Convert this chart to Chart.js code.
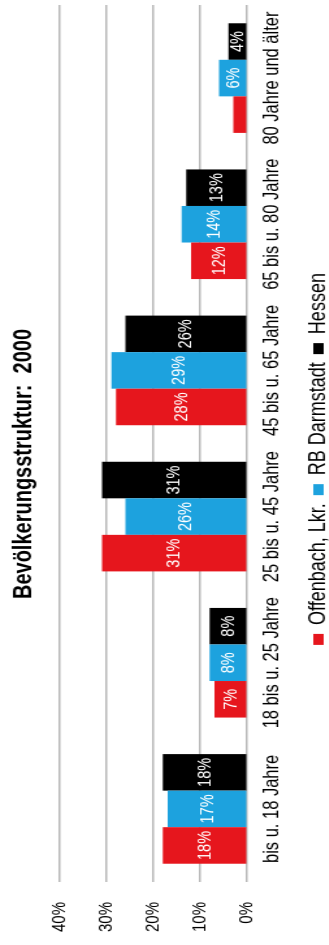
<!DOCTYPE html>
<html>
<head>
<meta charset="utf-8">
<script src="https://cdn.jsdelivr.net/npm/chart.js@4.4.1/dist/chart.umd.min.js"></script>
<style>
  html, body { margin: 0; padding: 0; background: #fff; overflow: hidden; }
  /* the chart is laid out landscape, then turned to read bottom-to-top */
  #wrap {
    position: absolute; left: 0; top: 0;
    width: 945px; height: 264px;
    transform-origin: 0 0;
    transform: translateY(945px) rotate(-90deg) scaleY(1.3);
  }
  canvas { display: block; }
</style>
</head>
<body>
<div id="wrap"><canvas id="c" width="945" height="264"></canvas></div>
<script>
const categories = [
  'bis u. 18 Jahre',
  '18 bis u. 25 Jahre',
  '25 bis u. 45 Jahre',
  '45 bis u. 65 Jahre',
  '65 bis u. 80 Jahre',
  '80 Jahre und älter'
];
const seriesNames = ['Offenbach, Lkr.', 'RB Darmstadt', 'Hessen'];
const offenbach   = [18, 7, 31, 28, 12, 3];
const rbDarmstadt = [17, 8, 26, 29, 14, 6];
const hessen      = [18, 8, 31, 26, 13, 4];
const valueTicks  = [0, 10, 20, 30, 40];
const titleText   = 'Bevölkerungsstruktur:  2000';

const FONT = '"Liberation Sans", Arial, Helvetica, sans-serif';
const colors = ['#e6161d', '#1da2de', '#000000'];

// white percentage labels in the middle of each bar (skipped when the bar is too short)
const barLabels = {
  id: 'barLabels',
  afterDatasetsDraw(chart) {
    const ctx = chart.ctx;
    const size = 14.5;
    ctx.save();
    ctx.font = size + 'px ' + FONT;
    ctx.fillStyle = '#ffffff';
    ctx.textAlign = 'center';
    ctx.textBaseline = 'middle';
    chart.data.datasets.forEach((ds, i) => {
      chart.getDatasetMeta(i).data.forEach((bar, j) => {
        const len = bar.base - bar.y;
        if (len < size * 0.8) return;
        ctx.fillText(ds.data[j] + '%', bar.x, (bar.y + bar.base) / 2 + 0.5);
      });
    });
    ctx.restore();
  }
};

// title and legend sit a little right of the canvas centre
const boxShift = {
  id: 'boxShift',
  afterLayout(chart) {
    [[chart.legend, 16], [chart.titleBlock, 11]].forEach(([box, dx]) => {
      if (!box) return;
      box.left += dx;
      box.right += dx;
    });
  }
};

const seriesData = [offenbach, rbDarmstadt, hessen];

new Chart(document.getElementById('c'), {
  type: 'bar',
  data: {
    labels: categories,
    datasets: seriesNames.map((name, i) => ({
      label: name,
      data: seriesData[i],
      backgroundColor: colors[i],
      borderColor: colors[i],
      borderWidth: 0,
      categoryPercentage: 0.75,
      barPercentage: 1.0
    }))
  },
  options: {
    responsive: false,
    animation: false,
    devicePixelRatio: 1,
    layout: { padding: { left: 0, right: 5, top: 0, bottom: 0 } },
    plugins: {
      title: {
        display: true,
        text: titleText,
        color: '#000',
        font: { family: FONT, size: 20, weight: 'bold' },
        padding: { top: 6.8, bottom: 15.2 }
      },
      legend: {
        position: 'bottom',
        labels: {
          color: '#000',
          font: { family: FONT, size: 18 },
          boxWidth: 11,
          boxHeight: 8,
          padding: 8
        }
      },
      tooltip: { enabled: false }
    },
    scales: {
      x: {
        grid: { display: false, drawTicks: false },
        border: { display: false },
        ticks: {
          color: '#000',
          font: { family: FONT, size: 16.5 },
          autoSkip: false,
          maxRotation: 0,
          minRotation: 0,
          padding: 9
        }
      },
      y: {
        min: valueTicks[0],
        max: valueTicks[valueTicks.length - 1],
        afterBuildTicks(scale) {
          scale.ticks = valueTicks.map(v => ({ value: v }));
        },
        afterFit(scale) { scale.width = 63; },
        grid: { color: '#b8b8b8', lineWidth: 1.5, drawTicks: false },
        border: { display: false },
        ticks: {
          color: '#000',
          font: { family: FONT, size: 15 },
          padding: 20,
          callback: v => v + '%'
        }
      }
    }
  },
  plugins: [barLabels, boxShift]
});
</script>
</body>
</html>
